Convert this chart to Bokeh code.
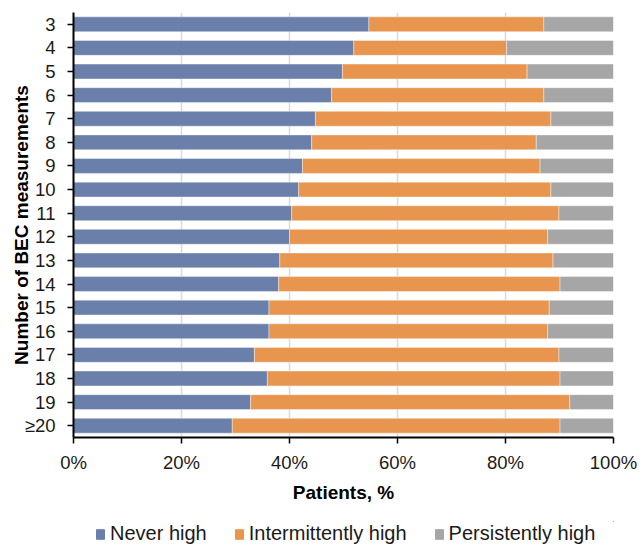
from bokeh.plotting import figure
from bokeh.layouts import column
from bokeh.models import FactorRange, Range1d, Legend, LegendItem, PrintfTickFormatter, FixedTicker, ColumnDataSource
from bokeh.embed import file_html
from bokeh.resources import INLINE

categories = ["3", "4", "5", "6", "7", "8", "9", "10", "11", "12", "13", "14", "15", "16", "17", "18", "19", "≥20"]
never_high = [54.7, 51.9, 49.8, 47.8, 44.8, 44.1, 42.4, 41.7, 40.4, 40.0, 38.2, 38.0, 36.2, 36.2, 33.5, 35.9, 32.8, 29.4]
never_plus_intermittent = [87.1, 80.2, 84.0, 87.1, 88.4, 85.7, 86.4, 88.4, 89.9, 87.8, 88.8, 90.1, 88.1, 87.8, 89.9, 90.1, 91.9, 90.1]
intermittently_high = [round(a - b, 1) for a, b in zip(never_plus_intermittent, never_high)]
persistently_high = [round(100 - a, 1) for a in never_plus_intermittent]
x_ticks = [0, 20, 40, 60, 80, 100]
series_names = ["Never high", "Intermittently high", "Persistently high"]
colors = ["#6A7FAA", "#E8964F", "#A6A6A6"]

FONT = "Liberation Sans"

source = ColumnDataSource(dict(cat=categories, never=never_high,
                               inter=intermittently_high, pers=persistently_high))

p = figure(frame_width=540, frame_height=425, output_backend="svg", toolbar_location=None,
           y_range=FactorRange(factors=list(reversed(categories)), range_padding=0.0),
           x_range=Range1d(0, 100))
p.min_border_left = 73
p.min_border_right = 28
p.min_border_top = 12
p.min_border_bottom = 84
p.outline_line_color = None

renderers = p.hbar_stack(["never", "inter", "pers"], y="cat", height=0.63, color=colors,
                         line_color="white", line_width=0.4, source=source)

p.xaxis.ticker = FixedTicker(ticks=x_ticks)
p.xaxis.formatter = PrintfTickFormatter(format="%d%%")
p.xaxis.axis_label = "Patients, %"
p.yaxis.axis_label = "Number of BEC measurements"
for ax in (p.xaxis[0], p.yaxis[0]):
    ax.axis_label_text_font = FONT
    ax.axis_label_text_font_style = "bold"
    ax.axis_label_text_font_size = "19px"
    ax.axis_label_text_color = "black"
    ax.major_label_text_font = FONT
    ax.major_label_text_font_size = "18.5px"
    ax.major_label_text_color = "#1a1a1a"
    ax.axis_line_color = "black"
    ax.axis_line_width = 2
    ax.major_tick_line_color = "black"
    ax.major_tick_line_width = 1.5
    ax.major_tick_out = 6
    ax.major_tick_in = 0
    ax.minor_tick_line_color = None
p.xaxis.major_label_standoff = 8
p.xaxis.axis_label_standoff = 6
p.yaxis.major_label_standoff = 12
p.yaxis.axis_label_standoff = -10

p.xgrid.grid_line_color = "#D9D9D9"
p.xgrid.grid_line_width = 1.5
p.ygrid.grid_line_color = None

# separate strip holding the legend below the chart; its helper bars have
# zero size and lie outside the strip's range, so only the legend shows
leg = figure(width=641, height=25, output_backend="svg", toolbar_location=None,
             x_range=Range1d(0, 1), y_range=Range1d(0, 1),
             x_axis_location=None, y_axis_location=None)
leg.min_border = 0
leg.outline_line_color = None
leg.xgrid.visible = False
leg.ygrid.visible = False
leg_renderers = [leg.hbar(y="never", left="never", right="never", height=0, color=c,
                          source=source) for c in colors]

legend = Legend(items=[LegendItem(label=n, renderers=[r]) for n, r in zip(series_names, leg_renderers)],
                orientation="horizontal", location=(22, 1))
legend.label_text_font = FONT
legend.label_text_font_size = "20px"
legend.label_text_color = "#1a1a1a"
legend.glyph_width = 10
legend.glyph_height = 12
legend.spacing = 27
legend.label_standoff = 5
legend.border_line_color = None
legend.background_fill_alpha = 0
legend.margin = 0
legend.padding = 0
leg.add_layout(legend)

layout = column(p, leg, spacing=0)
open("out.html", "w").write(file_html(layout, INLINE))
